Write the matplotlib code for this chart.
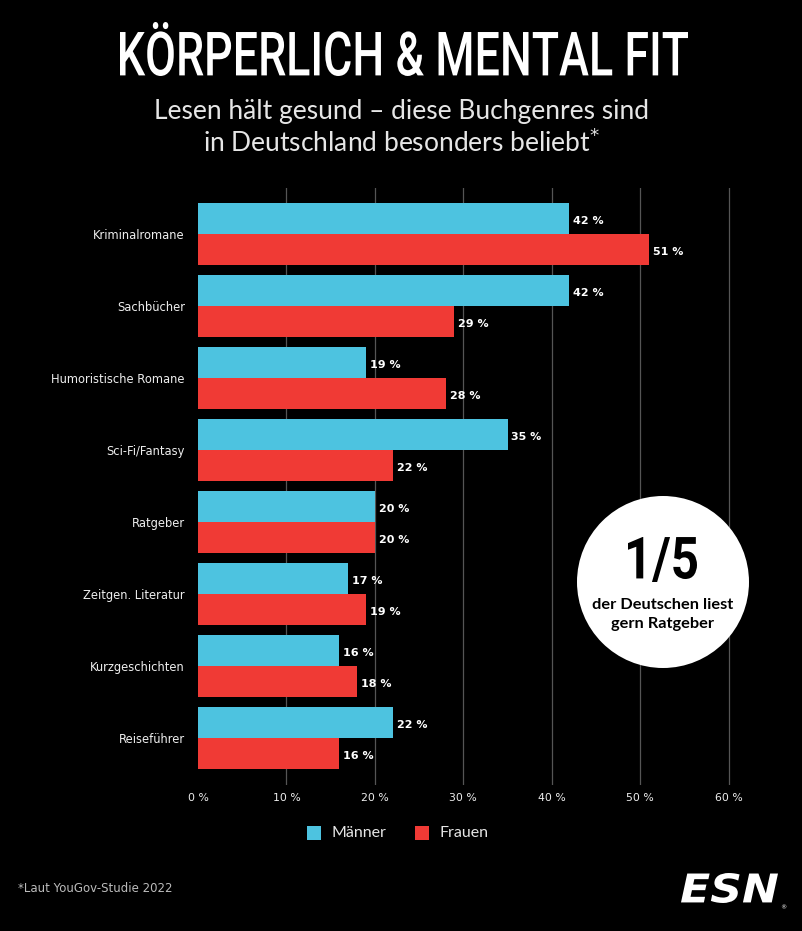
import matplotlib.pyplot as plt
from matplotlib.patches import Ellipse, Rectangle, PathPatch
from matplotlib.textpath import TextPath
from matplotlib.font_manager import FontProperties
from matplotlib.transforms import Affine2D, IdentityTransform
import numpy as np

# data
genres = ["Kriminalromane", "Sachbücher", "Humoristische Romane", "Sci-Fi/Fantasy",
          "Ratgeber", "Zeitgen. Literatur", "Kurzgeschichten", "Reiseführer"]
maenner = [42, 42, 19, 35, 20, 17, 16, 22]
frauen = [51, 29, 28, 22, 20, 19, 18, 16]
ticks = [0, 10, 20, 30, 40, 50, 60]

CYAN = "#4dc3e0"
RED = "#f03a35"
W, H = 803, 931
SMALL = "DejaVu Sans"

fig = plt.figure(figsize=(W / 100, H / 100), dpi=100, facecolor="black")


# condensed display text: a text path squeezed into a pixel box (top-left origin)
def boxed_text(s, box, fp, color, zorder=6):
    tp = TextPath((0, 0), s, size=100, prop=fp)
    ext = tp.get_extents()
    bx0, by0, bx1, by1 = box
    tr = (Affine2D().translate(-ext.x0, -ext.y0)
          .scale((bx1 - bx0) / ext.width, (by1 - by0) / ext.height)
          .translate(bx0, H - by1))
    p = PathPatch(tr.transform_path(tp), facecolor=color, lw=0,
                  transform=IdentityTransform(), zorder=zorder)
    fig.add_artist(p)


# axes placed in pixel coords: x from 198 (0 %), y 188..785
x0 = 198
px_per = (649 - 198) / 51
xmax = 62
ax = fig.add_axes([x0 / W, 1 - 785 / H, xmax * px_per / W, (785 - 188) / H])
ax.set_facecolor("black")

n = len(genres)
y = np.arange(n)
bh = 31 / 72
ax.barh(y - bh / 2, maenner, height=bh, color=CYAN, zorder=3)
ax.barh(y + bh / 2, frauen, height=bh, color=RED, zorder=3)

for i in range(n):
    ax.text(maenner[i] + 0.45, y[i] - bh / 2 + 0.03, f"{maenner[i]} %", color="white",
            fontsize=8, fontweight="bold", va="center", ha="left", family=SMALL, zorder=4)
    ax.text(frauen[i] + 0.45, y[i] + bh / 2 + 0.03, f"{frauen[i]} %", color="white",
            fontsize=8, fontweight="bold", va="center", ha="left", family=SMALL, zorder=4)

# group pitch 72px, first bar top at y=203
pitch = 72
span = (785 - 188) / pitch
first_top = -bh - (203 - 188) / pitch
ax.set_ylim(first_top + span, first_top)

ax.set_xlim(0, xmax)
for t in ticks[1:]:
    ax.axvline(t, color="#555555", lw=0.9, zorder=1)

ax.set_yticks(y)
ax.set_yticklabels(genres, color="#eeeeee", fontsize=8.3, family=SMALL)
ax.set_xticks(ticks)
ax.set_xticklabels([f"{t} %" for t in ticks], color="#eeeeee", fontsize=7.8, family=SMALL)
ax.tick_params(axis="both", length=0)
ax.tick_params(axis="y", pad=9.5)
ax.tick_params(axis="x", pad=6)
for s in ax.spines.values():
    s.set_visible(False)

# title and subtitle
boxed_text("KÖRPERLICH & MENTAL FIT", (120, 22, 688, 76),
           FontProperties(family="Roboto", weight="medium"), "white")
fig.text(0.5, 1 - 111 / H, "Lesen hält gesund – diese Buchgenres sind", color="#e6e6e6",
         fontsize=19, ha="center", va="center", family="Lato")
fig.text(0.5, 1 - 143 / H, "in Deutschland besonders beliebt$^{*}$", color="#e6e6e6",
         fontsize=19, ha="center", va="center", family="Lato")

# circle callout
cx, cy, r = 663, 582, 86
fig.add_artist(Ellipse((cx / W, 1 - cy / H), 2 * r / W, 2 * r / H, transform=fig.transFigure,
                       facecolor="white", edgecolor="none", zorder=5))
boxed_text("1/5", (628, 537, 697, 582), FontProperties(family="Roboto", weight="bold"),
           "black")
fig.text(cx / W, 1 - 605 / H, "der Deutschen liest", color="black", fontsize=11.8,
         ha="center", va="center", family="Lato", fontweight="bold", zorder=6)
fig.text(cx / W, 1 - 624 / H, "gern Ratgeber", color="black", fontsize=11.8,
         ha="center", va="center", family="Lato", fontweight="bold", zorder=6)

# legend
for lx, col, lab in [(307, CYAN, "Männer"), (415, RED, "Frauen")]:
    fig.add_artist(Rectangle((lx / W, 1 - 840 / H), 14 / W, 14 / H,
                             transform=fig.transFigure, facecolor=col, edgecolor="none"))
    fig.text((lx + 25) / W, 1 - 833 / H, lab, color="#e6e6e6", fontsize=11.5,
             ha="left", va="center", family="Lato")

# footer
fig.text(18 / W, 1 - 889 / H, "*Laut YouGov-Studie 2022", color="#bbbbbb", fontsize=8.5,
         ha="left", va="center", family=SMALL)
boxed_text("ESN", (681, 873, 778, 903),
           FontProperties(family="DejaVu Sans", weight="bold", style="oblique"), "white")
fig.text(783 / W, 1 - 908 / H, "®", color="white", fontsize=4.5, ha="center", va="center",
         family=SMALL)

fig.savefig("out.png", dpi=100, facecolor="black")
